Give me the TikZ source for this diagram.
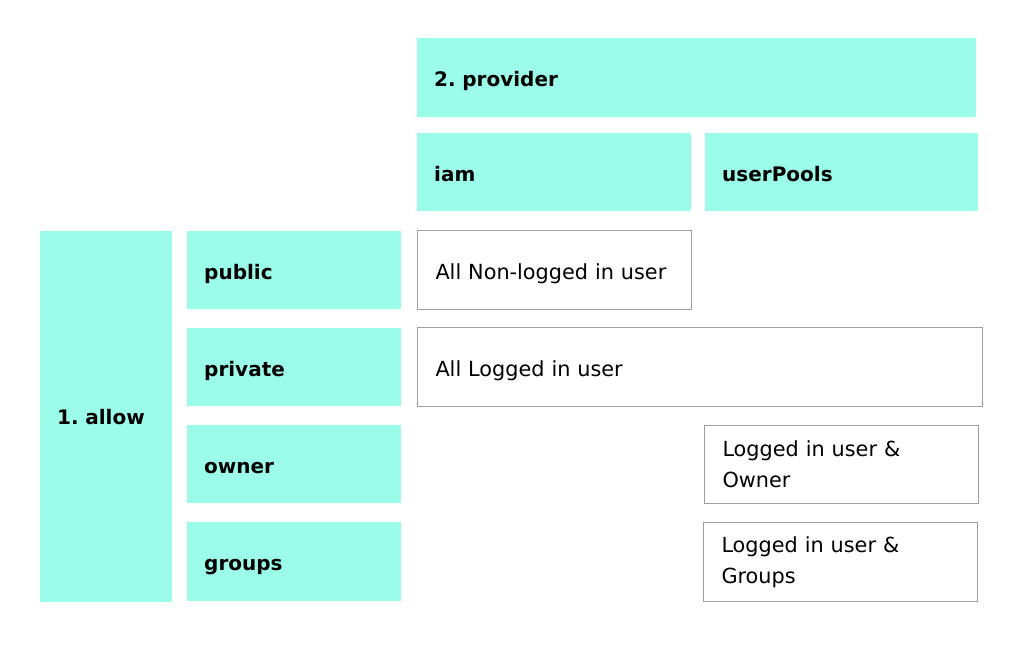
\documentclass[tikz,border=0pt]{standalone}
\usepackage{fontspec}
\setmainfont{DejaVu Sans}
\frenchspacing
\definecolor{aqua}{HTML}{9AFCE9}
\definecolor{edge}{HTML}{9E9E9E}
\begin{document}
\begin{tikzpicture}[x=1pt,y=-1pt,
  cbox/.style={fill=aqua, draw=none, anchor=north west, inner xsep=17pt, inner ysep=0pt, align=left,
    text height=19pt, text depth=1pt, font=\fontsize{20}{31}\selectfont\bfseries},
  wbox/.style={fill=white, draw=edge, line width=1pt, anchor=north west, inner xsep=18pt, inner ysep=0pt, align=left,
    font=\fontsize{20.8}{31}\selectfont},
  oneline/.style={text height=19pt, text depth=1pt}]
\useasboundingbox (0,0) rectangle (1024,645);
\node[cbox, minimum width=559pt, minimum height=79pt, text width=525pt] (prov) at (417,38) {2. provider};
\node[cbox, minimum width=274pt, minimum height=78pt, text width=240pt] (iam) at (417,133) {iam};
\node[cbox, minimum width=273pt, minimum height=78pt, text width=239pt] (up) at (705,133) {userPools};
\node[cbox, minimum width=132pt, minimum height=371pt, text width=98pt, text height=17pt, text depth=2pt] (allow) at (40,231) {1. allow};
\node[cbox, minimum width=214pt, minimum height=78pt, text width=180pt] (pub) at (187,231) {public};
\node[cbox, minimum width=214pt, minimum height=78pt, text width=180pt] (priv) at (187,328) {private};
\node[cbox, minimum width=214pt, minimum height=78pt, text width=180pt] (own) at (187,425) {owner};
\node[cbox, minimum width=214pt, minimum height=79pt, text width=180pt] (grp) at (187,522) {groups};
\node[wbox, oneline, minimum width=274pt, minimum height=79pt, text width=238pt] (nonlog) at (417,230) {All Non-logged in user};
\node[wbox, oneline, minimum width=565pt, minimum height=79pt, text width=529pt] (log) at (417,327) {All Logged in user};
\node[wbox, minimum width=274pt, minimum height=78pt, text width=238pt] (lown) at (704,425) {Logged in user \&\\Owner};
\node[wbox, minimum width=274pt, minimum height=79pt, text width=238pt] (lgrp) at (703,522) {Logged in user \&\\Groups};
\end{tikzpicture}
\end{document}
